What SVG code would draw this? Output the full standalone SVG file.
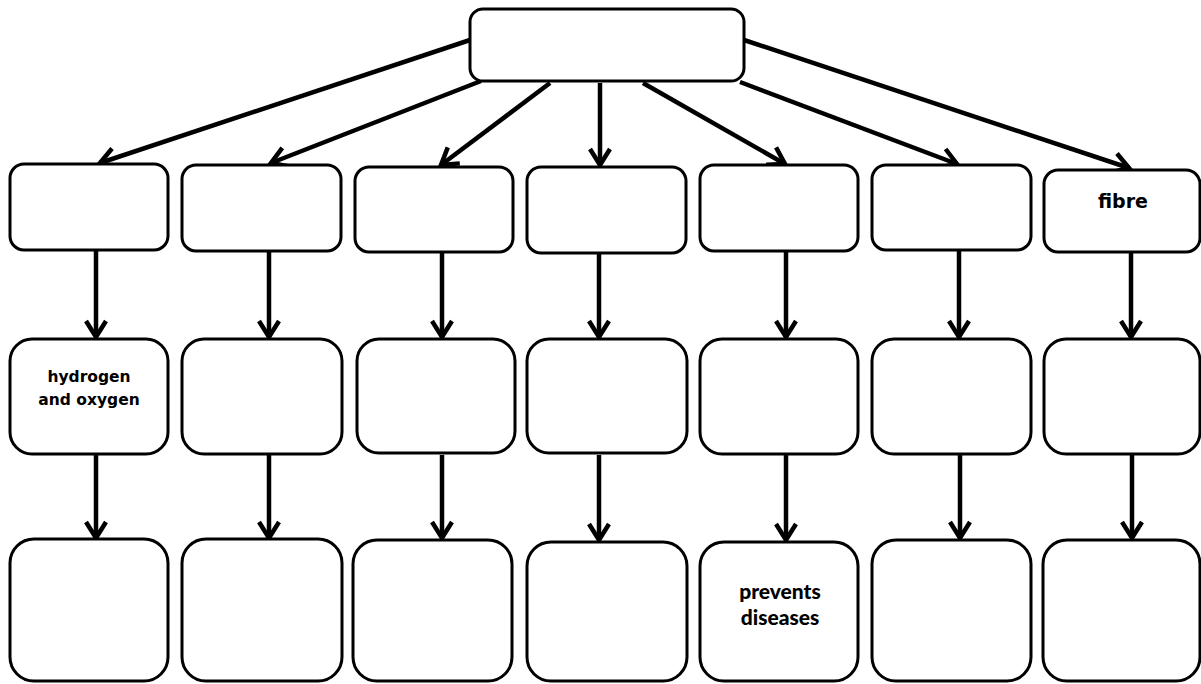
<svg xmlns="http://www.w3.org/2000/svg" width="1201" height="684" viewBox="0 0 1201 684">
<style>
.box{fill:#fff;stroke:#000;stroke-width:3}
.c{fill:none;stroke:#000;stroke-width:4.5;marker-end:url(#ah)}
.t1{font-family:"DejaVu Sans",Verdana,sans-serif;font-weight:bold;font-size:15.5px;text-anchor:middle;fill:#000}
.t2{font-family:"DejaVu Sans",Verdana,sans-serif;font-weight:bold;font-size:19px;text-anchor:middle;fill:#000}
.t3{font-family:Lato,"Liberation Sans",sans-serif;font-weight:900;font-size:21px;text-anchor:middle;fill:#000}
</style>
<defs>
<marker id="ah" markerUnits="userSpaceOnUse" markerWidth="30" markerHeight="30" refX="0" refY="0" viewBox="-20 -15 30 30" orient="auto" overflow="visible">
<path d="M-16,-10 L0,0 L-16,10" fill="none" stroke="#000" stroke-width="4.5" stroke-linejoin="miter"/>
</marker>
</defs>
<rect width="1201" height="684" fill="#fff"/>
<g id="connectors">
<line class="c" x1="470" y1="40" x2="100" y2="163"/>
<line class="c" x1="481" y1="81" x2="271" y2="163"/>
<line class="c" x1="550" y1="83" x2="441" y2="165"/>
<line class="c" x1="600" y1="83" x2="600" y2="165"/>
<line class="c" x1="643" y1="83" x2="785" y2="164"/>
<line class="c" x1="740" y1="82" x2="957" y2="164"/>
<line class="c" x1="744" y1="40" x2="1129" y2="168"/>
<line class="c" x1="96" y1="251" x2="96" y2="337"/>
<line class="c" x1="269" y1="252" x2="269" y2="337"/>
<line class="c" x1="442" y1="253" x2="442" y2="337"/>
<line class="c" x1="599" y1="254" x2="599" y2="337"/>
<line class="c" x1="786" y1="252" x2="786" y2="337"/>
<line class="c" x1="959" y1="251" x2="959" y2="337"/>
<line class="c" x1="1131" y1="253" x2="1131" y2="337"/>
<line class="c" x1="96" y1="455" x2="96" y2="538"/>
<line class="c" x1="269" y1="455" x2="269" y2="538"/>
<line class="c" x1="442" y1="455" x2="442" y2="538"/>
<line class="c" x1="599" y1="455" x2="599" y2="540"/>
<line class="c" x1="786" y1="455" x2="786" y2="540"/>
<line class="c" x1="960" y1="455" x2="960" y2="538"/>
<line class="c" x1="1132" y1="455" x2="1132" y2="538"/>
</g>
<g id="top"><rect class="box" x="470" y="9" width="274" height="72" rx="13"/></g>
<g id="r1c1"><rect class="box" x="10" y="164" width="158" height="86" rx="14"/></g>
<g id="r1c2"><rect class="box" x="182" y="165" width="159" height="86" rx="14"/></g>
<g id="r1c3"><rect class="box" x="355" y="167" width="158" height="85" rx="14"/></g>
<g id="r1c4"><rect class="box" x="527" y="167" width="159" height="86" rx="14"/></g>
<g id="r1c5"><rect class="box" x="700" y="165" width="158" height="86" rx="14"/></g>
<g id="r1c6"><rect class="box" x="872" y="165" width="159" height="85" rx="14"/></g>
<g id="r1c7"><rect class="box" x="1044" y="170" width="156" height="82" rx="14"/><text class="t2" x="1123" y="208">fibre</text></g>
<g id="r2c1"><rect class="box" x="10" y="339" width="158" height="115" rx="22"/><text class="t1" x="89" y="382">hydrogen</text><text class="t1" x="89" y="405">and oxygen</text></g>
<g id="r2c2"><rect class="box" x="182" y="339" width="160" height="115" rx="22"/></g>
<g id="r2c3"><rect class="box" x="357" y="339" width="158" height="114" rx="22"/></g>
<g id="r2c4"><rect class="box" x="527" y="339" width="160" height="114" rx="22"/></g>
<g id="r2c5"><rect class="box" x="700" y="339" width="158" height="115" rx="22"/></g>
<g id="r2c6"><rect class="box" x="872" y="339" width="159" height="115" rx="22"/></g>
<g id="r2c7"><rect class="box" x="1044" y="339" width="156" height="115" rx="22"/></g>
<g id="r3c1"><rect class="box" x="10" y="539" width="158" height="142" rx="24"/></g>
<g id="r3c2"><rect class="box" x="182" y="539" width="160" height="142" rx="24"/></g>
<g id="r3c3"><rect class="box" x="353" y="540" width="159" height="141" rx="24"/></g>
<g id="r3c4"><rect class="box" x="527" y="542" width="160" height="139" rx="24"/></g>
<g id="r3c5"><rect class="box" x="700" y="542" width="158" height="139" rx="24"/><text class="t3" x="780" y="599">prevents</text><text class="t3" x="780" y="625">diseases</text></g>
<g id="r3c6"><rect class="box" x="872" y="540" width="159" height="141" rx="24"/></g>
<g id="r3c7"><rect class="box" x="1043" y="540" width="157" height="141" rx="24"/></g>
</svg>
